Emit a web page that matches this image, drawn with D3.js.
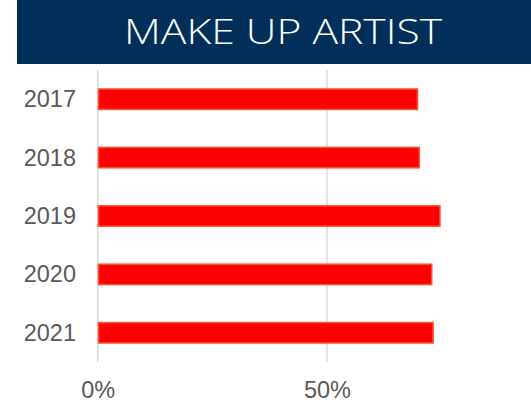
<!DOCTYPE html>
<html>
<head>
<meta charset="utf-8">
<script src="https://cdn.jsdelivr.net/npm/d3@7"></script>
<style>
  html, body { margin: 0; padding: 0; background: #fff; }
  svg { display: block; }
</style>
</head>
<body>
<svg id="chart" width="531" height="400"></svg>
<script>
// Share of make-up artist roles by year
const title = "MAKE UP ARTIST";
const years = ["2017", "2018", "2019", "2020", "2021"];
const shares = [0.699, 0.703, 0.748, 0.730, 0.733];
const tickValues = [0, 0.5];

const svg = d3.select("#chart");
const W = 531, H = 400;

// Header banner
svg.append("rect")
  .attr("x", 17).attr("y", 0)
  .attr("width", W - 17).attr("height", 64)
  .attr("fill", "#00305a");

svg.append("text")
  .attr("x", 283).attr("y", 43.5)
  .attr("text-anchor", "middle")
  .attr("font-family", "'Open Sans', Lato, sans-serif")
  .attr("font-weight", 300)
  .attr("font-size", 35)
  .attr("textLength", 318)
  .attr("lengthAdjust", "spacingAndGlyphs")
  .attr("fill", "#ffffff")
  .text(title);

// Scales
const x = d3.scaleLinear().domain([0, 1]).range([97.7, 97.7 + 458.6]);
const y = d3.scaleBand().domain(years).range([70, 362])
  .paddingInner(0.65).paddingOuter(0.325);

// Vertical gridlines
svg.append("g")
  .selectAll("line")
  .data(tickValues)
  .join("line")
  .attr("x1", d => x(d)).attr("x2", d => x(d))
  .attr("y1", 70).attr("y2", 362)
  .attr("stroke", "#d9d9d9")
  .attr("stroke-width", 1.5);

// X axis tick labels
const xAxis = d3.axisBottom(x)
  .tickValues(tickValues)
  .tickFormat(d3.format(".0%"))
  .tickSize(0)
  .tickPadding(0);

const gx = svg.append("g")
  .attr("transform", "translate(0,380)")
  .call(xAxis);
gx.select(".domain").remove();
gx.selectAll("text")
  .attr("dy", null)
  .attr("y", 17.5)
  .attr("font-family", "'Liberation Sans', Arial, sans-serif")
  .attr("font-size", 23.5)
  .attr("fill", "#595959");

// Y axis category labels
const yAxis = d3.axisLeft(y).tickSize(0).tickPadding(0);
const gy = svg.append("g")
  .attr("transform", "translate(76,0)")
  .call(yAxis);
gy.select(".domain").remove();
gy.selectAll("text")
  .attr("dy", null)
  .attr("y", 8)
  .attr("x", 0)
  .attr("font-family", "'Liberation Sans', Arial, sans-serif")
  .attr("font-size", 23.5)
  .attr("fill", "#595959");

// Bars
svg.append("g")
  .selectAll("rect")
  .data(years.map((yr, i) => ({ yr, v: shares[i] })))
  .join("rect")
  .attr("x", x(0) + 0.75)
  .attr("y", d => y(d.yr))
  .attr("width", d => x(d.v) - x(0) - 1.5)
  .attr("height", y.bandwidth())
  .attr("fill", "#ff0000")
  .attr("stroke", "#ff5233")
  .attr("stroke-width", 1.5);
</script>
</body>
</html>
